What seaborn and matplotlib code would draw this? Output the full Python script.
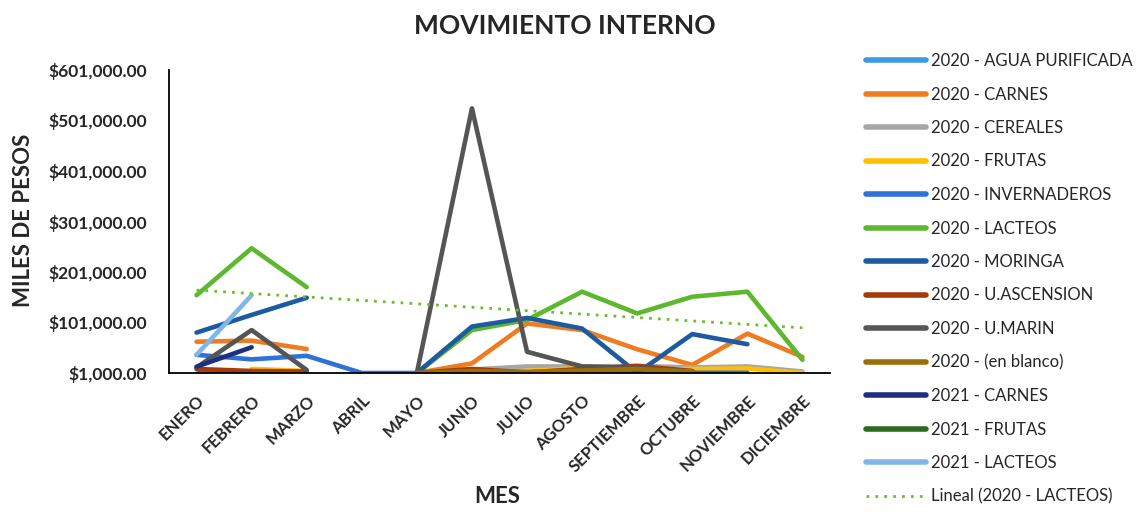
import numpy as np
import pandas as pd
import seaborn as sns
import matplotlib.pyplot as plt
from matplotlib.lines import Line2D
from matplotlib.ticker import StrMethodFormatter, FixedLocator

nan = np.nan

meses = ['ENERO', 'FEBRERO', 'MARZO', 'ABRIL', 'MAYO', 'JUNIO', 'JULIO',
         'AGOSTO', 'SEPTIEMBRE', 'OCTUBRE', 'NOVIEMBRE', 'DICIEMBRE']

# valores en pesos, nan = sin dato (hueco en la linea)
agua_20 = [nan, 1000, 1000, nan, nan, nan, nan, nan, nan, nan, nan, nan]
carnes_20 = [63000, 65000, 48500, nan, 1000, 20000, 99000, 86000, 48000, 17000, 79000, 33000]
cereales_20 = [nan, nan, nan, nan, 1000, 8000, 14000, 14000, 15000, 12000, 14000, 4000]
frutas_20 = [nan, 9000, 5000, nan, 1000, 3000, 5000, 11000, 7000, 9000, 10000, 1000]
invernaderos_20 = [37000, 28000, 35000, 1000, 1000, 1000, 1500, 2000, 2000, 1500, 1500, nan]
lacteos_20 = [155000, 248000, 171000, nan, 1000, 86000, 106000, 162000, 119000, 152000, 162000, 27000]
moringa_20 = [81000, 116000, 150000, nan, 1000, 93000, 110000, 89000, 1000, 78000, 58000, nan]
ascension_20 = [9000, 5000, 4000, nan, 1000, 9000, 2000, 9000, 15000, 5000, nan, nan]
marin_20 = [12000, 86000, 7000, nan, 1000, 525000, 43000, 14000, 11000, 4000, nan, nan]
blanco_20 = [nan, nan, nan, nan, 1000, 5000, 3000, 6000, 9000, 4000, nan, nan]
carnes_21 = [13500, 52000, nan, nan, nan, nan, nan, nan, nan, nan, nan, nan]
frutas_21 = [1500, 1500, nan, nan, nan, nan, nan, nan, nan, nan, nan, nan]
lacteos_21 = [37000, 155000, nan, nan, nan, nan, nan, nan, nan, nan, nan, nan]

series = {
    '2020 - AGUA PURIFICADA': (agua_20, '#3C9AE0'),
    '2020 - CARNES': (carnes_20, '#F07C22'),
    '2020 - CEREALES': (cereales_20, '#A6A6A6'),
    '2020 - FRUTAS': (frutas_20, '#FFC000'),
    '2020 - INVERNADEROS': (invernaderos_20, '#2E72D8'),
    '2020 - LACTEOS': (lacteos_20, '#5DB830'),
    '2020 - MORINGA': (moringa_20, '#1D5BA0'),
    '2020 - U.ASCENSION': (ascension_20, '#A83A0A'),
    '2020 - U.MARIN': (marin_20, '#555555'),
    '2020 - (en blanco)': (blanco_20, '#9B6E0A'),
    '2021 - CARNES': (carnes_21, '#1F2F80'),
    '2021 - FRUTAS': (frutas_21, '#2C6A1E'),
    '2021 - LACTEOS': (lacteos_21, '#7FB7E8'),
}
trend_color = '#6BBF2A'

# tabla larga; 'tramo' separa los segmentos para conservar los huecos
rows = []
for name, (vals, _) in series.items():
    tramo = 0
    for i, v in enumerate(vals):
        if np.isnan(v):
            tramo += 1
            continue
        rows.append({'serie': name, 'mes': i, 'valor': v, 'tramo': tramo})
df = pd.DataFrame(rows)

sns.set_style('white')
plt.rcParams['font.family'] = ['Lato', 'DejaVu Sans']

fig = plt.figure(figsize=(11.36, 5.17), dpi=100)
ax = fig.add_axes([169 / 1136, 1 - 373 / 517, (830 - 169) / 1136, (373 - 70) / 517])

palette = {k: c for k, (_, c) in series.items()}
sns.lineplot(data=df, x='mes', y='valor', hue='serie', units='tramo',
             estimator=None, palette=palette, hue_order=list(series.keys()),
             linewidth=3.3, legend=False, ax=ax)

# linea de tendencia lineal de 2020 - LACTEOS
sns.regplot(x=np.arange(12), y=np.array(lacteos_20, dtype=float), scatter=False,
            ci=None, truncate=True, ax=ax,
            line_kws=dict(color=trend_color, lw=2, linestyle=(0, (1, 2.2))))

ax.set_xlim(-0.5, 11.5)
ax.set_ylim(1000, 601000)
ax.set_yticks(np.arange(1000, 601001, 100000))
ax.yaxis.set_major_formatter(StrMethodFormatter('${x:,.2f}'))
ax.set_xticks(range(12))
ax.set_xticklabels(meses, rotation=45, ha='right', rotation_mode='anchor',
                   fontsize=12, fontweight='bold')
ax.xaxis.set_minor_locator(FixedLocator(np.arange(-0.5, 12, 1)))
ax.tick_params(axis='x', which='major', length=0, pad=14)
ax.tick_params(axis='x', which='minor', length=5, width=1.2, color='black', direction='out')
ax.tick_params(axis='y', length=5, width=1.2, color='black', direction='out',
               labelsize=12.5, pad=11)
for lab in ax.get_yticklabels():
    lab.set_fontweight('bold')

sns.despine(ax=ax)
for s in ['left', 'bottom']:
    ax.spines[s].set_color('black')
    ax.spines[s].set_linewidth(1.3)

ax.set_xlabel('MES', fontsize=16, fontweight='bold', labelpad=0)
ax.xaxis.set_label_coords((497 - 169) / (830 - 169), -(486 - 373) / (373 - 70))
ax.set_ylabel('MILES DE PESOS', fontsize=16, fontweight='bold')
ax.yaxis.set_label_coords(-(169 - 34) / (830 - 169), (373 - 220) / (373 - 70))
fig.text(565 / 1136, 1 - 26 / 517, 'MOVIMIENTO INTERNO', ha='center', va='center',
         fontsize=19, fontweight='bold')

handles = [Line2D([], [], color=c, lw=4) for _, c in series.values()]
handles.append(Line2D([], [], color=trend_color, lw=2, linestyle=(0, (1, 2.2))))
labels = list(series.keys()) + ['Lineal (2020 - LACTEOS)']
fig.legend(handles, labels, loc='upper left', bbox_to_anchor=(866 / 1136, 1 - 53 / 517),
           frameon=False, fontsize=12, handlelength=3.6, handletextpad=0.3,
           labelspacing=1.05, borderpad=0, borderaxespad=0)

fig.savefig('out.png', dpi=100)
